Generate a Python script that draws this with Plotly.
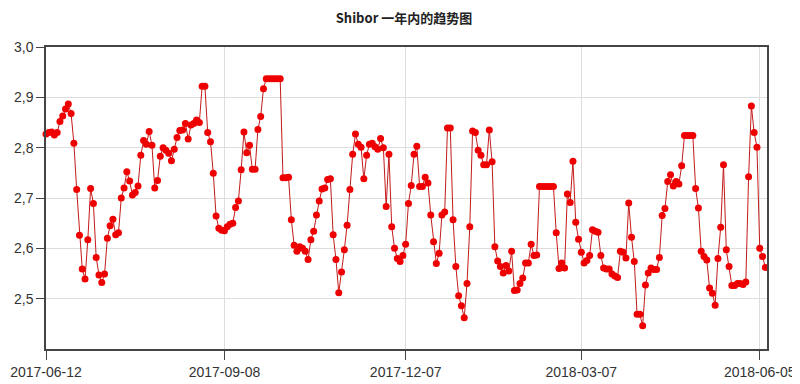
import plotly.graph_objects as go

title_text = "Shibor 一年内的趋势图"

shibor_values = [
    2.827, 2.830, 2.831, 2.825, 2.830, 2.852, 2.863, 2.877, 2.887, 2.868,
    2.809, 2.717, 2.626, 2.559, 2.539, 2.617, 2.719, 2.689, 2.582, 2.547,
    2.532, 2.549, 2.620, 2.645, 2.658, 2.627, 2.631, 2.700, 2.720, 2.752,
    2.734, 2.706, 2.711, 2.724, 2.785, 2.814, 2.807, 2.832, 2.805, 2.720,
    2.735, 2.783, 2.800, 2.795, 2.789, 2.774, 2.797, 2.820, 2.834, 2.835,
    2.848, 2.817, 2.845, 2.848, 2.855, 2.850, 2.922, 2.922, 2.830, 2.812,
    2.749, 2.664, 2.640, 2.636, 2.635, 2.643, 2.648, 2.650, 2.681, 2.694,
    2.756, 2.831, 2.790, 2.805, 2.757, 2.757, 2.836, 2.862, 2.917, 2.937,
    2.937, 2.937, 2.937, 2.937, 2.937, 2.740, 2.740, 2.741, 2.657, 2.606,
    2.594, 2.603, 2.600, 2.594, 2.578, 2.617, 2.634, 2.666, 2.694, 2.718,
    2.720, 2.737, 2.738, 2.627, 2.578, 2.512, 2.553, 2.597, 2.646, 2.717,
    2.787, 2.827, 2.807, 2.801, 2.738, 2.785, 2.807, 2.809, 2.802, 2.797,
    2.818, 2.800, 2.683, 2.787, 2.643, 2.600, 2.580, 2.574, 2.586, 2.608,
    2.689, 2.725, 2.787, 2.803, 2.723, 2.723, 2.741, 2.730, 2.666, 2.613,
    2.570, 2.590, 2.666, 2.672, 2.839, 2.839, 2.657, 2.564, 2.506, 2.486,
    2.462, 2.530, 2.643, 2.833, 2.830, 2.795, 2.785, 2.766, 2.766, 2.835,
    2.772, 2.603, 2.575, 2.564, 2.551, 2.566, 2.555, 2.594, 2.516, 2.517,
    2.530, 2.541, 2.571, 2.571, 2.608, 2.586, 2.587, 2.723, 2.723, 2.723,
    2.723, 2.723, 2.723, 2.631, 2.560, 2.571, 2.561, 2.708, 2.691, 2.773,
    2.652, 2.618, 2.592, 2.571, 2.576, 2.586, 2.637, 2.634, 2.632, 2.586,
    2.561, 2.559, 2.559, 2.549, 2.545, 2.542, 2.594, 2.592, 2.581, 2.690,
    2.622, 2.574, 2.469, 2.469, 2.446, 2.527, 2.551, 2.561, 2.558, 2.558,
    2.582, 2.665, 2.679, 2.733, 2.746, 2.724, 2.733, 2.728, 2.764, 2.824,
    2.824, 2.824, 2.824, 2.719, 2.680, 2.594, 2.584, 2.577, 2.521, 2.511,
    2.487, 2.580, 2.642, 2.766, 2.597, 2.564, 2.526, 2.526, 2.530, 2.530,
    2.528, 2.533, 2.742, 2.883, 2.830, 2.801, 2.600, 2.584, 2.562,
]

x_index = list(range(len(shibor_values)))

x_tick_positions = [0, 64, 129, 192, 256]
x_tick_labels = ["2017-06-12", "2017-09-08", "2017-12-07", "2018-03-07", "2018-06-05"]

y_tick_values = [2.5, 2.6, 2.7, 2.8, 2.9, 3.0]

fig = go.Figure()
fig.add_trace(go.Scatter(
    x=x_index,
    y=shibor_values,
    mode="lines+markers",
    line=dict(color="#c41a1a", width=1),
    marker=dict(color="#ee0000", size=7),
    cliponaxis=False,
    hoverinfo="y",
    showlegend=False,
))

axis_font = dict(family="Liberation Sans, Arial, sans-serif", size=14, color="#333333")

# the page adds an 8px body margin, so the figure is sized to fit the visible window
fig.update_layout(
    width=792,
    height=376,
    margin=dict(l=38, r=33, t=39, b=35, autoexpand=False),
    paper_bgcolor="white",
    plot_bgcolor="white",
    separators=",.",
    title=dict(
        text="<b>" + title_text + "</b>",
        x=0.5,
        xanchor="center",
        y=0.972,
        yanchor="middle",
        font=dict(family="Noto Sans CJK SC, sans-serif", size=13, color="#222222"),
    ),
    xaxis=dict(
        range=[0, 258.6],
        automargin=False,
        tickmode="array",
        tickvals=x_tick_positions,
        ticktext=x_tick_labels,
        ticks="outside",
        ticklen=9,
        tickcolor="#444444",
        tickfont=axis_font,
        showgrid=True,
        gridcolor="#dddddd",
        gridwidth=1,
        showline=True,
        linecolor="#444444",
        linewidth=1.5,
        mirror=True,
        zeroline=False,
    ),
    yaxis=dict(
        range=[2.4, 3.0],
        automargin=False,
        tickmode="array",
        tickvals=y_tick_values,
        tickformat=".1f",
        ticks="outside",
        ticklen=8,
        tickcolor="#444444",
        tickfont=axis_font,
        showgrid=True,
        gridcolor="#dddddd",
        gridwidth=1,
        showline=True,
        linecolor="#444444",
        linewidth=1.5,
        mirror=True,
        zeroline=False,
    ),
)

fig.write_html("out.html")
